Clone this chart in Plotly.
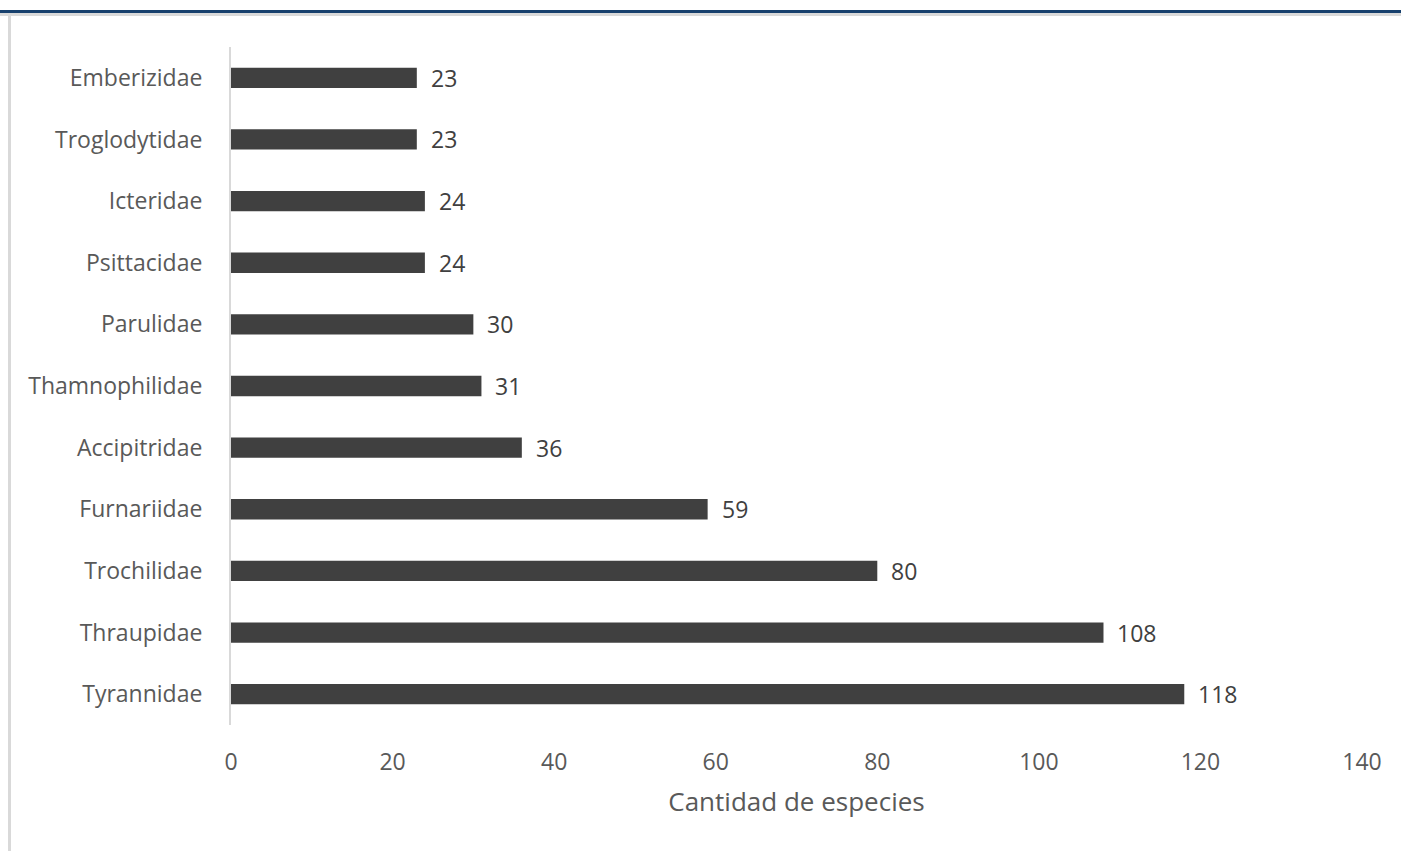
import plotly.graph_objects as go

families = ["Tyrannidae", "Thraupidae", "Trochilidae", "Furnariidae", "Accipitridae",
            "Thamnophilidae", "Parulidae", "Psittacidae", "Icteridae", "Troglodytidae", "Emberizidae"]
species = [118, 108, 80, 59, 36, 31, 30, 24, 24, 23, 23]
x_ticks = [0, 20, 40, 60, 80, 100, 120, 140]

FONT = "Open Sans"
GRAY = "#595959"
FS = 23

fig = go.Figure()
fig.add_trace(go.Bar(
    y=families, x=species, orientation="h",
    marker=dict(color="#404040", line=dict(width=0)),
    width=0.33, hoverinfo="x+y",
))

for f, v in zip(families, species):
    fig.add_annotation(x=v, y=f, text=str(v), showarrow=False, xanchor="left",
                       xshift=12, font=dict(family=FONT, size=FS, color="#404040"))

W, H = 1401, 851
l, r, t, b = 231, 39, 47, 126
pw, ph = W - l - r, H - t - b

def px(xp):
    return (xp - l) / pw

def py(yp):
    return (H - b - yp) / ph

shapes = [
    dict(type="rect", xref="paper", yref="paper", x0=px(0), x1=px(W), y0=py(16), y1=py(13),
         fillcolor="#D9D9D9", line=dict(width=0), layer="above"),
    dict(type="rect", xref="paper", yref="paper", x0=px(0), x1=px(W), y0=py(13), y1=py(10),
         fillcolor="#17406D", line=dict(width=0), layer="above"),
    dict(type="rect", xref="paper", yref="paper", x0=px(8), x1=px(11), y0=py(H), y1=py(16),
         fillcolor="#D9D9D9", line=dict(width=0), layer="above"),
]

fig.update_layout(
    width=W, height=H,
    margin=dict(l=l, r=r, t=t, b=b, pad=0),
    paper_bgcolor="white", plot_bgcolor="white",
    showlegend=False,
    font=dict(family=FONT, size=FS, color=GRAY),
    shapes=shapes,
    xaxis=dict(range=[0, 140], tickvals=x_ticks, showgrid=False, zeroline=False,
               showline=False, ticks="", ticklabelstandoff=21,
               tickfont=dict(size=FS, color=GRAY),
               title=dict(text="Cantidad de especies", font=dict(size=26, color=GRAY), standoff=16)),
    yaxis=dict(showgrid=False, zeroline=False, showline=True, linecolor="#D9D9D9", linewidth=2,
               ticks="", ticklabelstandoff=22, tickfont=dict(size=FS, color=GRAY),
               range=[-0.5, 10.5]),
)

fig.write_html("out.html", config={"displayModeBar": False},
               post_script="document.body.style.margin='0';document.body.style.overflow='hidden';")
